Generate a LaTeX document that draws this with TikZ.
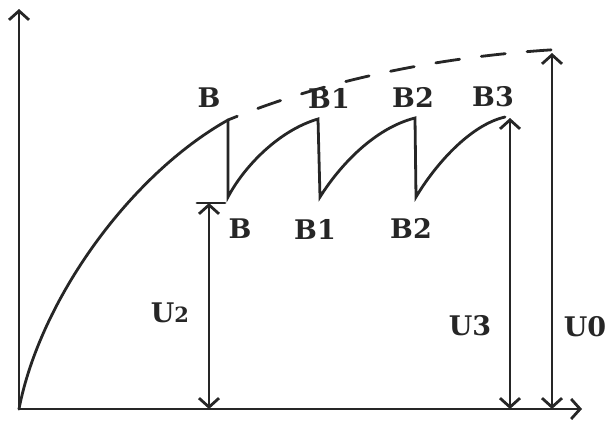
\documentclass[tikz,border=0pt]{standalone}
\usepackage{fontspec}
\setmainfont{DejaVu Serif}
\usetikzlibrary{arrows.meta, positioning}

\begin{document}
\begin{tikzpicture}[x=1pt, y=-1pt, >={Straight Barb[length=9pt, width=20pt]},
    line width=2.8pt, line cap=round,
    lbl/.style={font=\fontsize{27}{27}\selectfont\bfseries, inner sep=0pt, text=black!85}]
  \useasboundingbox (0,0) rectangle (608,426);
  \begin{scope}[draw=black!85]
  % Axes
  \coordinate (O) at (19,409);
  \coordinate (ytop) at (19,9);
  \coordinate (xend) at (582,409);
  \draw[->] (O) -- (ytop);
  \draw[->] (O) -- (xend);

  % Peaks and troughs
  \coordinate (B) at (228,120);
  \coordinate (E) at (228,197);
  \coordinate (B1) at (318,119);
  \coordinate (E1) at (320,197);
  \coordinate (B2) at (415,118);
  \coordinate (E2) at (416,197);
  \coordinate (B3) at (505,117);
  \coordinate (Bend) at (566,49);

  % Loading curve
  \draw (O) .. controls (40,300) and (130,175) .. (B);
  \draw (B) -- (E) .. controls (245,165) and (280,130) .. (B1)
        -- (E1) .. controls (340,165) and (375,128) .. (B2)
        -- (E2) .. controls (435,165) and (470,125) .. (B3);
  % Envelope
  \draw[dashed, dash pattern=on 24pt off 22pt, dash phase=-32pt]
    (B) .. controls (330,78) and (450,55) .. (Bend);

  % Dimension arrows
  \coordinate (u2top) at (209,203);
  \coordinate (u2bot) at (209,409);
  \coordinate (u3bot) at (510,409);
  \coordinate (u3top) at (510,118);
  \coordinate (u0bot) at (552,409);
  \coordinate (u0top) at (552,53);
  \draw ([xshift=-12pt]u2top) -- ([xshift=16pt]u2top);
  \draw[<->] (u2top) -- (u2bot);
  \draw[<->] (u3top) -- (u3bot);
  \draw[<->] (u0top) -- (u0bot);
  \end{scope}

  % Labels
  \node[lbl] (lB)  at (209,98) {B};
  \node[lbl] (lB1) at (329,98) {B1};
  \node[lbl] (lB2) at (413,97) {B2};
  \node[lbl] (lB3) at (493,97) {B3};
  \node[lbl] (lE)  at (240,229) {B};
  \node[lbl] (lE1) at (315,229) {B1};
  \node[lbl] (lE2) at (411,228) {B2};
  \node[lbl] (lU2) at (170,313) {U{\fontsize{21}{21}\selectfont 2}};
  \node[lbl] (lU3) at (470,326) {U3};
  \node[lbl] (lU0) at (585,327) {U0};
\end{tikzpicture}
\end{document}
